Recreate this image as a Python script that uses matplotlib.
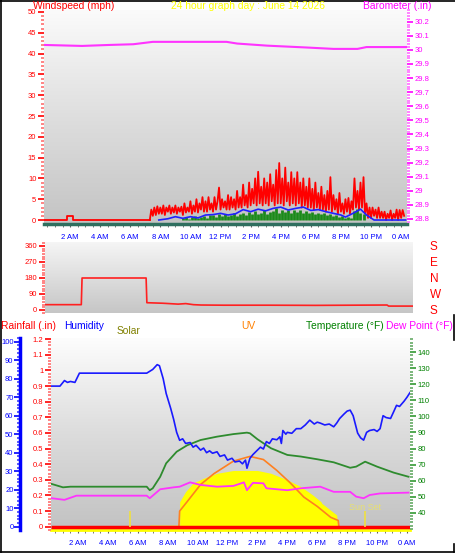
import matplotlib
matplotlib.use('Agg')
import matplotlib.pyplot as plt
import numpy as np
from matplotlib.colors import LinearSegmentedColormap
from matplotlib.lines import Line2D
from matplotlib.ticker import MultipleLocator

plt.rcParams['font.family'] = ['Liberation Sans', 'DejaVu Sans']

# --- horas / rotulos ---
hour_ticks = [2, 4, 6, 8, 10, 12, 14, 16, 18, 20, 22, 24]
hour_labels = ['2 AM', '4 AM', '6 AM', '8 AM', '10 AM', '12 PM',
               '2 PM', '4 PM', '6 PM', '8 PM', '10 PM', '0 AM']

# --- painel de vento ---
gust_pre_h = [0.27, 1.8, 1.8, 2.2, 2.2, 7.3]
gust_pre = [0, 0, 1, 1, 0, 0]
gust_start = 7.3  # amostras a cada 0.1 h
gust = [0, 2.5, 1, 3, 1.2, 3.3, 1.5,
        3, 1.5, 3.5, 1.2, 3, 2, 3.5, 1.5, 3, 1.8,
        3.5, 1.5, 3, 2, 3.2, 1.2, 4, 1.8, 3, 2,
        4.5, 1.5, 3.5, 2, 5, 1.8, 4, 2.5, 5.5, 2,
        4.5, 2, 5.5, 2.5, 4, 2, 5.5, 2.5, 4.5, 7.8,
        2.5, 5, 3, 4.5, 2.5, 6, 2.5, 5.5, 3, 5,
        2.5, 7, 3, 5.5, 3, 8.5, 3.5, 6, 3, 9,
        3.5, 7.5, 4, 10, 3.5, 11.6, 4, 8, 3.5, 10,
        4, 9, 3.5, 11, 4.5, 8.5, 3.5, 12, 4, 13.7,
        4, 10, 3.5, 12.6, 4.5, 9, 3.5, 11.5, 4, 10,
        3.5, 11.5, 4, 9, 3, 10, 3.5, 8, 3, 10,
        3, 7.5, 2.5, 9, 3, 6.5, 2.5, 8, 2.5, 6,
        2, 7, 2.5, 10.3, 2, 6, 2.5, 5, 1.5, 6.5,
        2, 4, 1.5, 5, 2, 5.3, 1.5, 4.5, 2.5, 10,
        3, 7, 2.5, 9, 3, 10.3, 1.5, 4, 0.5, 3,
        0.5, 3, 1, 2.5, 0.5, 3, 0.5, 2, 0.5, 2,
        0, 1.5, 0.5, 2.3, 0, 1.5, 0.5, 2.5, 0, 2.4,
        0.5, 2.4, 1]

avg_h = [7.9, 8.5, 9.0, 9.5, 10.0, 10.5, 11.0, 11.5, 12.0, 12.5, 13.0, 13.5,
         14.0, 14.5, 15.0, 15.5, 16.0, 16.5, 17.0, 17.5, 18.0, 18.5, 19.0,
         19.5, 20.0, 20.3, 20.8, 21.3, 21.7, 22.2, 24.3]
avg_wind = [0, 0.3, 0.8, 0.4, 0.8, 0.5, 1.2, 1.3, 1.6, 1.2, 1.5, 2.5,
            2.0, 2.6, 2.2, 2.8, 3.1, 2.4, 2.8, 3.1, 2.3, 2.5, 2.0,
            1.6, 1.2, 0.7, 1.6, 2.6, 1.2, 0, 0]

low_start = 9.5  # barras a cada 0.2 h
low_wind = [0.5, 0.8, 0.3, 0.7, 0.9, 0.4, 0.8, 1.0, 0.6, 1.1,
            1.2, 0.8, 1.4, 1.0, 1.5, 0.9, 1.2, 1.6, 1.0, 1.5,
            1.6, 1.2, 2.0, 1.4, 2.2, 1.5, 1.8, 2.4, 1.4, 2.0,
            2.2, 2.8, 1.7, 2.4, 2.0, 2.5, 1.8, 2.3, 2.0, 2.4,
            1.8, 2.2, 1.6, 2.0, 1.4, 1.8, 1.5, 1.6, 1.1, 1.4,
            0.9, 1.2, 0.7, 1.0, 0.6, 0.8, 0.5, 2.2, 2.7, 1.8,
            1.5]

baro_h = [0.27, 2.8, 4.6, 6.2, 7.5, 12.4, 13.1, 15.1, 17.7, 19.5, 21.1, 21.7, 24.4]
baro = [30.035, 30.028, 30.035, 30.04, 30.057, 30.057, 30.045, 30.03,
        30.017, 30.007, 30.007, 30.02, 30.02]

# --- direcao do vento ---
wd_h = [0.27, 2.65, 2.7, 6.9, 6.95, 8.0, 9.0, 9.5, 10.0, 10.5, 12, 15, 18, 22.7, 22.8, 24.4]
wd = [30, 30, 180, 180, 41, 38, 33, 36, 30, 28, 27, 27, 26, 28, 22, 22]

# --- painel inferior ---
hum_h = [0.25, 0.8, 1.1, 1.3, 1.5, 1.8, 2.1, 6.6, 7.0, 7.3, 7.45, 7.7, 7.9, 8.2,
         8.4, 8.6, 8.8, 9.0, 9.2, 9.5, 9.7, 9.9, 10.2, 10.4, 10.6, 10.8, 11.0,
         11.3, 11.5, 11.8, 12.0, 12.3, 12.5, 12.8, 13.0, 13.2, 13.3, 13.5, 13.7,
         14.0, 14.2, 14.4, 14.6, 14.8, 15.0, 15.3, 15.5, 15.6, 15.7, 15.9, 16.0,
         16.3, 16.6, 16.9, 17.2, 17.5, 17.8, 18.0, 18.2, 18.5, 18.8, 19.1, 19.3,
         19.5, 19.8, 20.0, 20.2, 20.4, 20.7, 20.9, 21.1, 21.3, 21.5, 21.8, 22.0,
         22.2, 22.4, 22.6, 22.9, 23.1, 23.3, 23.5, 23.8, 24.0, 24.2]
hum = [76, 76, 79, 78, 78.5, 78, 83, 83, 85, 87.6, 87, 80, 72, 64,
       58, 51, 46.7, 47.5, 45, 45.5, 43, 44, 41.4, 42.5, 40, 41, 39.7,
       40.5, 38, 38.8, 36, 37, 35, 35.5, 34, 36, 31.6, 37, 39,
       41.4, 43, 42, 46, 45, 47.5, 47, 48.6, 45, 52, 50, 51,
       50.5, 53, 53, 55, 57.6, 55.5, 56.5, 56, 55, 55.5, 54, 56,
       58.5, 61, 62.5, 63, 60, 50.6, 48, 46.8, 51, 52, 52.5, 51.5,
       53, 60, 59, 58.5, 62, 65.6, 65, 67.8, 70, 72.5]

temp_h = [0.25, 1.0, 1.5, 6.6, 6.8, 7.0, 7.5, 7.9, 8.6, 9.3, 10.2, 11.3, 12.4,
          13.3, 13.5, 14.0, 14.9, 16.0, 16.9, 18.0, 19.1, 20.2, 20.6, 21.2,
          22.0, 23.1, 24.1]
temp = [57.9, 55.8, 56.2, 56.2, 54, 55.2, 62.4, 70.8, 78, 82, 85.3, 87.4, 89,
        89.9, 89.5, 85.8, 80.2, 76, 75, 73.3, 71.4, 68, 68.7, 71.8,
        68.7, 65, 62.4]

dew_h = [0.25, 1.1, 1.9, 6.6, 6.8, 7.5, 8.4, 8.8, 9.5, 10.2, 11.3, 12.4, 13.1,
         13.3, 13.7, 14.4, 14.6, 16.0, 16.9, 18.2, 19.1, 20.2, 20.6, 21.1,
         21.5, 22.2, 24.1]
dew = [49, 48, 50.6, 50.6, 49, 54.6, 55.8, 56.2, 58.9, 57.3, 56.2, 56.7, 58.9,
       54, 58.6, 58.3, 55.2, 54, 55.2, 56.2, 53, 53, 50, 49,
       51, 52, 52.5]

solar_h = [6.8, 8.8, 8.8, 9.2, 9.7, 10.4, 11.3, 12.4, 14.0, 14.9, 16.0, 16.9,
           17.7, 18.25, 18.3, 19.3, 19.35, 20.2]
solar = [10, 10, 160, 225, 280, 310, 342, 360, 360, 342, 300, 257,
         203, 160, 150, 75, 5, 5]

uv_h = [8.75, 8.8, 9.3, 10.2, 11.1, 12.4, 13.5, 14.4, 15.3, 16.2, 17.1, 18.0, 18.9, 19.4, 19.45]
uv = [0, 1.0, 1.6, 2.7, 3.4, 4.2, 4.5, 4.3, 3.6, 2.8, 1.9, 1.3, 0.6, 0.4, 0]

rain_h = [0.2, 24.2]
rain = [0, 0]

sunrise_h = 5.48
sunset_h = 21.2


def box(l, t, r, b):
    return [l / 455, 1 - b / 554, (r - l) / 455, (b - t) / 554]


def background(ax, bottom, mid, top):
    cmap = LinearSegmentedColormap.from_list('bg', [bottom, mid, top])
    grad = np.linspace(0, 1, 256).reshape(-1, 1)
    ax.imshow(grad, extent=[0, 1, 0, 1], transform=ax.transAxes, origin='lower',
              aspect='auto', cmap=cmap, zorder=0)


def hide_spines(ax):
    for s in ax.spines.values():
        s.set_visible(False)


fig = plt.figure(figsize=(4.55, 5.54), dpi=100)
fig.patch.set_facecolor('white')

# ================= painel superior =================
ax1 = fig.add_axes(box(44, 10, 407, 224))
background(ax1, '#c4c4c4', '#dedede', '#fbfbfb')
hide_spines(ax1)
ax1.spines['bottom'].set_visible(True)
ax1.spines['bottom'].set_color('#2f6f5f')
ax1.spines['bottom'].set_linewidth(2.5)

gust_t = gust_start + 0.1 * np.arange(len(gust))
low_t = low_start + 0.2 * np.arange(len(low_wind))
ax1.plot(gust_pre_h, gust_pre, color='#ff0000', lw=1.3, zorder=2)
ax1.plot(gust_t, gust, color='#ff0000', lw=1.3, zorder=2)
ax1.vlines(low_t, 0, low_wind, color='#1a8a1a', lw=2.0, zorder=3)
ax1.plot(avg_h, avg_wind, color='#2020ff', lw=1.2, zorder=4)

ax1.set_xlim(0.27, 24.39)
ax1.set_ylim(-0.96, 50.48)
ax1.set_xticks(hour_ticks)
ax1.set_xticklabels(hour_labels)
ax1.xaxis.set_minor_locator(MultipleLocator(0.5))
ax1.tick_params(axis='x', which='both', colors='#606060', labelcolor='#0000ff',
                labelsize=5.5, length=2, pad=5)
ax1.set_yticks(range(0, 51, 5))
ax1.yaxis.set_minor_locator(MultipleLocator(1))
ax1.tick_params(axis='y', which='major', colors='#ff0000', length=4, width=1.2,
                labelsize=5.5, pad=1.5)
ax1.tick_params(axis='y', which='minor', colors='#ff7070', length=2.5, width=1.2)

ax1b = ax1.twinx()
hide_spines(ax1b)
ax1b.plot(baro_h, baro, color='#ff33ff', lw=1.5, zorder=3)
ax1b.set_ylim(28.7645, 30.283)
baro_ticks = np.round(np.arange(28.8, 30.21, 0.1), 1)
ax1b.set_yticks(baro_ticks)
ax1b.set_yticklabels([f'{v:g}' for v in baro_ticks])
ax1b.yaxis.set_minor_locator(MultipleLocator(0.02))
ax1b.tick_params(axis='y', which='major', colors='#ff00ff', length=4, width=1.2,
                 labelsize=5.5, pad=1.5)
ax1b.tick_params(axis='y', which='minor', colors='#ff70ff', length=2.5, width=1.2)

# ================= direcao do vento =================
ax2 = fig.add_axes(box(45, 242, 413, 313))
background(ax2, '#c6c6c6', '#dedede', '#f6f6f6')
hide_spines(ax2)
ax2.plot(wd_h, wd, color='#ff2020', lw=1.2, zorder=3)
ax2.set_xlim(0.27, 24.4)
ax2.set_ylim(-16.9, 382.5)
ax2.set_xticks([])
ax2.set_yticks([0, 90, 180, 270, 360])
ax2.yaxis.set_minor_locator(MultipleLocator(15))
ax2.tick_params(axis='y', which='major', colors='#ff0000', length=4, width=1.2,
                labelsize=5.5, pad=1.5)
ax2.tick_params(axis='y', which='minor', colors='#ff7070', length=2.5, width=1.2)

ax2b = ax2.twinx()
hide_spines(ax2b)
ax2b.set_ylim(-16.9, 382.5)
ax2b.set_yticks([0, 90, 180, 270, 360])
ax2b.set_yticklabels(['S', 'W', 'N', 'E', 'S'])
ax2b.tick_params(axis='y', colors='#ff0000', length=0, labelsize=8.5, pad=12)

# ================= painel inferior =================
ax3 = fig.add_axes(box(51, 338, 410, 530))
background(ax3, '#c2c2c2', '#dcdcdc', '#fdfdfd')
hide_spines(ax3)
ax3.spines['bottom'].set_visible(True)
ax3.spines['bottom'].set_color('#ffff00')
ax3.spines['bottom'].set_linewidth(2)
ax3.fill_between(solar_h, 0, solar, color='#ffff00', lw=0, zorder=2)
ax3.set_ylim(-21, 1208)
ax3.set_yticks([])
ax3.set_xlim(0.2, 24.2)
ax3.set_xticks(hour_ticks)
ax3.set_xticklabels(hour_labels)
ax3.xaxis.set_minor_locator(MultipleLocator(0.5))
ax3.tick_params(axis='x', which='both', colors='#606060', labelcolor='#0000ff',
                labelsize=5.5, length=2, pad=5)

ax_uv = ax3.twinx()
hide_spines(ax_uv)
ax_uv.plot(uv_h, uv, color='#ff8020', lw=1.2)
ax_uv.set_ylim(-0.21, 12.08)
ax_uv.set_yticks([])

ax_t = ax3.twinx()
hide_spines(ax_t)
ax_t.plot(temp_h, temp, color='#2e8b2e', lw=1.3)
ax_t.plot(dew_h, dew, color='#ff33ff', lw=1.3)
ax_t.set_ylim(29.2, 148.9)
ax_t.set_yticks(range(40, 141, 10))
ax_t.yaxis.set_minor_locator(MultipleLocator(2))
ax_t.tick_params(axis='y', which='major', colors='#339933', labelcolor='#008000',
                 length=4, width=1.2, labelsize=5.5, pad=1.5)
ax_t.tick_params(axis='y', which='minor', colors='#66aa66', length=2.5, width=1.2)

ax_h = ax3.twinx()
hide_spines(ax_h)
ax_h.spines['left'].set_visible(True)
ax_h.spines['left'].set_position(('outward', 22))
ax_h.spines['left'].set_color('#0000ff')
ax_h.spines['left'].set_linewidth(2.5)
ax_h.yaxis.set_ticks_position('left')
ax_h.plot(hum_h, hum, color='#1a1aff', lw=1.2)
ax_h.set_ylim(-1.78, 102)
ax_h.set_yticks(range(0, 101, 10))
ax_h.yaxis.set_minor_locator(MultipleLocator(2))
ax_h.tick_params(axis='y', which='major', colors='#0000ff', length=4, width=1.2,
                 labelsize=5.5, pad=1)
ax_h.tick_params(axis='y', which='minor', colors='#4040ff', length=2.5, width=1.2)

ax_r = ax3.twinx()
hide_spines(ax_r)
ax_r.yaxis.set_ticks_position('left')
ax_r.plot(rain_h, rain, color='#ff0000', lw=2.5, solid_capstyle='butt')
ax_r.vlines([sunrise_h, sunset_h], 0, 0.1, color='#f0e040', lw=1.2)
ax_r.text(sunset_h, 0.126, 'Sun Set', color='#e8e070', fontsize=6.5,
          ha='center', va='center')
ax_r.set_ylim(-0.021, 1.208)
rain_ticks = np.round(np.arange(0, 1.21, 0.1), 1)
ax_r.set_yticks(rain_ticks)
ax_r.set_yticklabels([f'{v:g}' for v in rain_ticks])
ax_r.yaxis.set_minor_locator(MultipleLocator(0.02))
ax_r.tick_params(axis='y', which='major', colors='#ff0000', length=4, width=1.2,
                 labelsize=5.5, pad=1.5)
ax_r.tick_params(axis='y', which='minor', colors='#ff7070', length=2.5, width=1.2)

# ================= titulos =================
def ftext(x, y, s, color, ha='left'):
    fig.text(x / 455, 1 - y / 554, s, color=color, fontsize=7.4, ha=ha, va='center')

ftext(33, 6, 'Windspeed (mph)', '#ff0000')
ftext(248, 6, '24 hour graph day : June 14 2026', '#ffff00', ha='center')
ftext(363, 6, 'Barometer (.in)', '#ff00ff')
ftext(1, 326, 'Rainfall (.in)', '#ff0000')
ftext(64, 326, 'Humidity', '#0000ff')
ftext(117, 331, 'Solar', '#808000')
ftext(241, 326, 'UV', '#ff8000')
ftext(384, 326, 'Temperature (°F)', '#008000', ha='right')
ftext(453, 326, 'Dew Point (°F)', '#ff00ff', ha='right')

# ================= moldura =================
def fline(x0, y0, x1, y1):
    fig.add_artist(Line2D([x0 / 455, x1 / 455], [1 - y0 / 554, 1 - y1 / 554],
                          transform=fig.transFigure, color='black', lw=1.2))

fline(0, 0.5, 455, 0.5)
fline(0.5, 0, 0.5, 552)
fline(0, 551.5, 453.5, 551.5)
fline(453.5, 315, 453.5, 340)
fline(453.5, 544, 453.5, 552)

fig.savefig('out.png', dpi=100)
